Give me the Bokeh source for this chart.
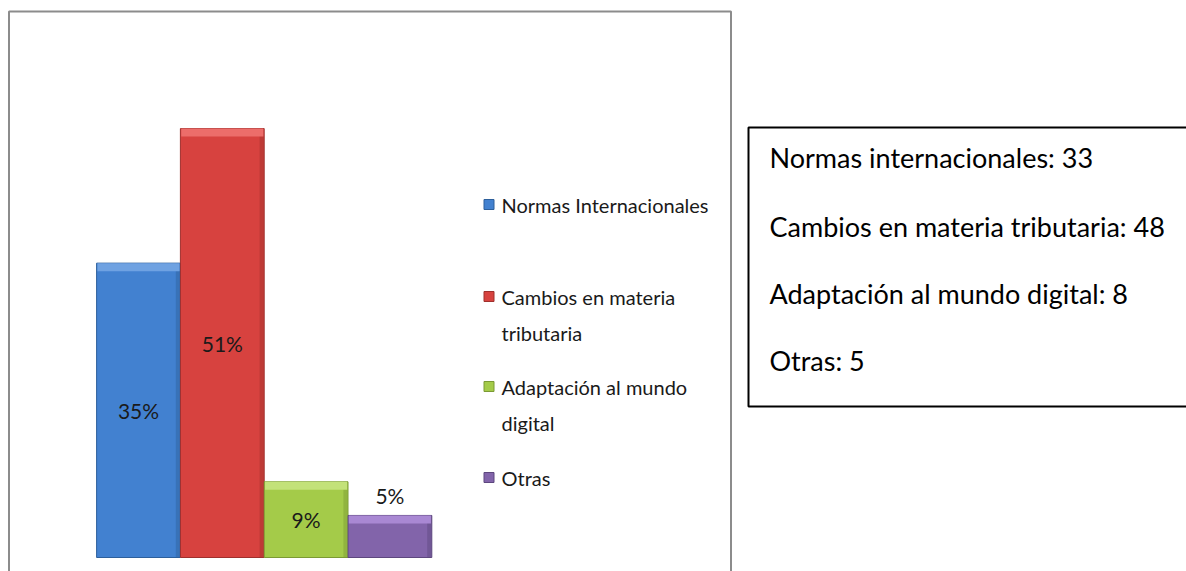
from bokeh.plotting import figure
from bokeh.models import Range1d, BoxAnnotation, Label
from bokeh.core.properties import value
from bokeh.embed import file_html
from bokeh.resources import INLINE

# ---- data ----
categories = ["Normas Internacionales", "Cambios en materia tributaria",
              "Adaptación al mundo digital", "Otras"]
legend_lines = [["Normas Internacionales"], ["Cambios en materia", "tributaria"],
                ["Adaptación al mundo", "digital"], ["Otras"]]
percents = [35, 51, 9, 5]
pct_labels = ["35%", "51%", "9%", "5%"]
box_lines = ["Normas internacionales: 33", "Cambios en materia tributaria: 48",
             "Adaptación al mundo digital: 8", "Otras: 5"]

fill_colors = ["#4281d0", "#d7423f", "#a4cb49", "#8264aa"]
top_colors = ["#6fa2e2", "#ec6d6a", "#c3e279", "#a988d3"]
edge_colors = ["#2d5f9b", "#9f302d", "#7b9a34", "#5d477e"]

W, H = 1186, 571
X0, UX = 138.0, 83.8      # px of first bar center, px per category
Y0, UY = 557.0, 8.41      # px of baseline, px per percent


def xd(px):
    return (px - X0) / UX


def yd(py):
    return (Y0 - py) / UY


p = figure(width=W, height=H, output_backend="svg", toolbar_location=None,
           x_range=Range1d(xd(0), xd(W)), y_range=Range1d(yd(H), yd(0)),
           min_border=0, min_border_left=0, min_border_right=0,
           min_border_top=0, min_border_bottom=0)
p.axis.visible = False
p.grid.visible = False
p.outline_line_color = None
p.background_fill_color = "white"
p.border_fill_color = "white"

# outer chart frame
p.add_layout(BoxAnnotation(left=xd(8.5), right=xd(730.5), top=yd(11), bottom=yd(620),
                           fill_color=None, fill_alpha=0, line_color="#8c8c8c",
                           line_alpha=1, line_width=2))

xs = list(range(len(percents)))
# bars
p.vbar(x=xs, top=percents, bottom=0, width=1.0, fill_color=fill_colors,
       line_color=edge_colors, line_width=1)
# darker right side
p.vbar(x=[x + 0.47 for x in xs], top=percents, bottom=0, width=0.05,
       fill_color=edge_colors, fill_alpha=0.45, line_color=None)
# bevel highlight at the top of each bar
p.vbar(x=xs, top=percents, bottom=[v - 0.95 for v in percents], width=0.98,
       fill_color=top_colors, line_color=None)

# value labels
lab_y = [v / 2 if v > 8 else v + 0.9 for v in percents]
p.text(x=xs, y=lab_y, text=pct_labels, text_align="center",
       text_baseline=["middle", "middle", "middle", "bottom"],
       text_font=value("Lato"), text_font_size="21px", text_color="#1a1a1a")

# legend
leg_y = [204, 296, 386, 477]
p.scatter(x=[xd(488.5)] * 4, y=[yd(v) for v in leg_y], marker="square", size=10,
          fill_color=fill_colors, line_color=edge_colors)
for i, lines in enumerate(legend_lines):
    for j, t in enumerate(lines):
        py = leg_y[i] + j * 36
        p.add_layout(Label(x=xd(501), y=yd(py), text=t, text_baseline="middle",
                           text_font="Lato", text_font_size="20px",
                           text_color="#1a1a1a"))

# right info box
p.add_layout(BoxAnnotation(left=xd(748), right=xd(1300), top=yd(127), bottom=yd(406),
                           fill_color=None, fill_alpha=0, line_color="black",
                           line_alpha=1, line_width=2))
box_y = [157, 226, 293, 360]
for t, py in zip(box_lines, box_y):
    p.add_layout(Label(x=xd(769), y=yd(py), text=t, text_baseline="middle",
                       text_font="Lato", text_font_size="27px", text_color="black"))

open("out.html", "w").write(file_html(p, INLINE))
